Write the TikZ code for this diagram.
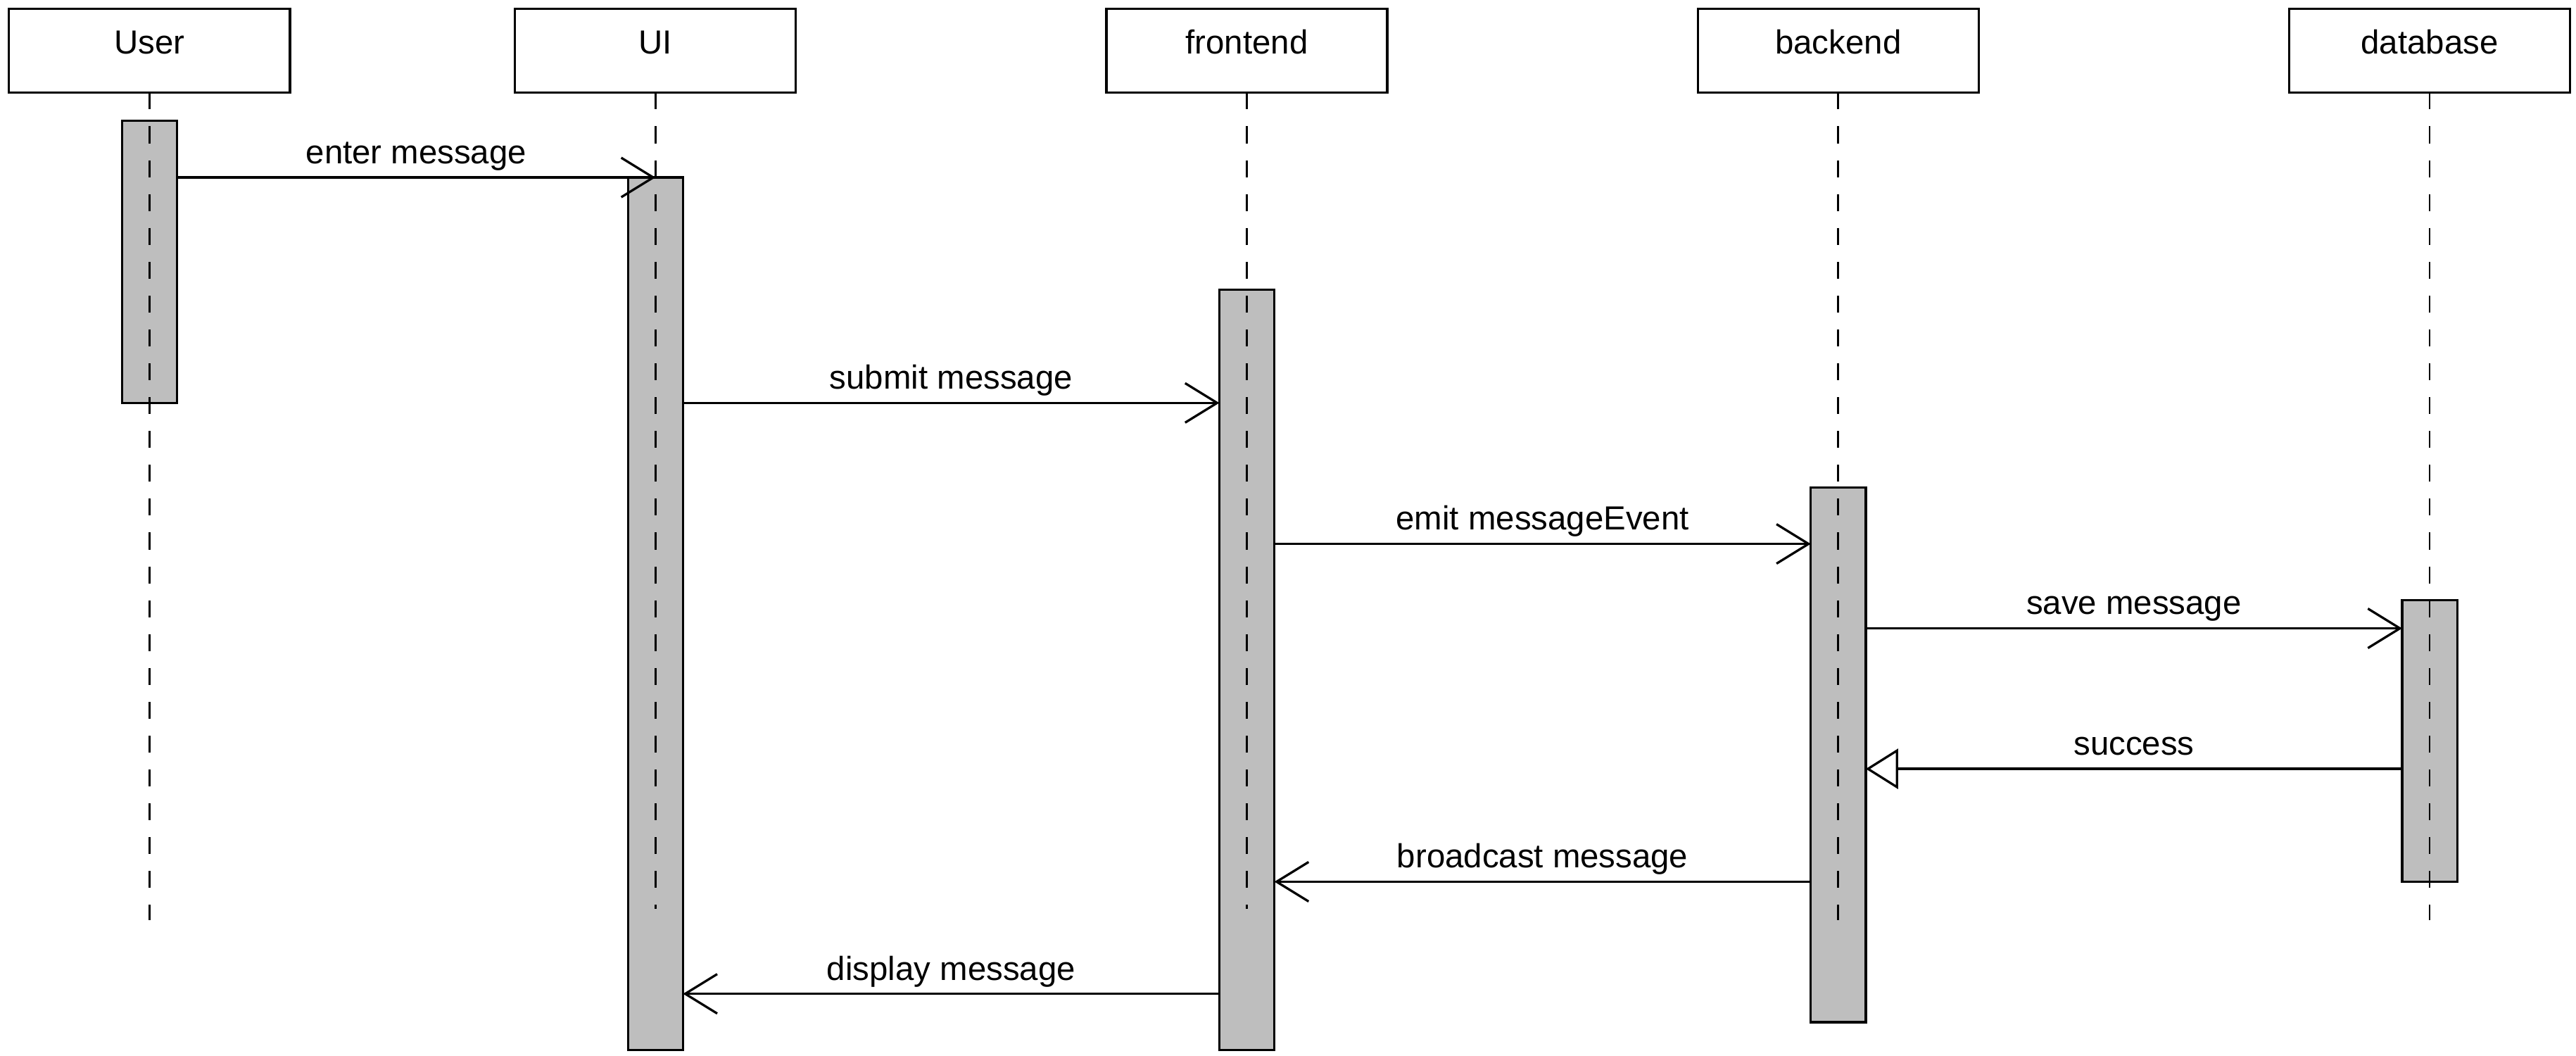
\documentclass[tikz,border=0pt]{standalone}
\usepackage{fontspec}
\setmainfont{Liberation Sans}
\usepackage{xcolor}
\definecolor{actgray}{RGB}{190,190,190}
\usetikzlibrary{arrows.meta,positioning}

\begin{document}
\begin{tikzpicture}[x=1pt,y=-1pt,
    headbox/.style={draw, line width=1.4pt, minimum width=171pt, minimum height=51pt, inner sep=0pt, outer sep=0pt, text height=15pt, text depth=11.4pt, font=\fontsize{20.3}{24}\selectfont},
    actbar/.style={draw, fill=actgray, line width=1.4pt, minimum width=33.5pt, inner sep=0pt, outer sep=0pt},
    lifeline/.style={line width=1.15pt, dash pattern=on 10.3pt off 10.3pt},
    msg/.style={line width=1.4pt, -{Straight Barb[length=19.5pt,width=24pt]}},
    reply/.style={line width=1.4pt, -{Triangle[open,length=19.7pt,width=24.4pt]}},
    lbl/.style={anchor=base, yshift=8.4pt, inner sep=0pt, font=\fontsize{20.3}{24}\selectfont}]
    \fill[white] (0,0) rectangle (1568.1,642.6);
    \useasboundingbox (0,0) rectangle (1568.1,642.6);

    % Participants
    \foreach \n/\x/\t in {user/91/User, ui/399/UI, frontend/759/frontend, backend/1119/backend, database/1479/database} {
        \node[headbox] (\n) at (\x,30.8) {\t};
    }

    % Activation bars
    \node[actbar, minimum height=171.7pt] (userbar) at (91,159.45) {};
    \node[actbar, minimum height=531.1pt] (uibar) at (399,373.55) {};
    \node[actbar, minimum height=462.9pt] (frontbar) at (759,407.65) {};
    \node[actbar, minimum height=325.3pt] (backbar) at (1119,459.45) {};
    \node[actbar, minimum height=171.4pt] (databar) at (1479,450.9) {};

    % Lifelines
    \foreach \n/\len in {user/503.6, ui/496.7, frontend/496.7, backend/503.6, database/503.6} {
        \path (\n.south) ++(0,\len) coordinate (\n-end);
        \draw[lifeline] (\n.south) -- (\n-end);
    }

    % Message rows
    \foreach \r/\yy in {1/108, 2/245.2, 3/331, 4/382.4, 5/467.9, 6/536.6, 7/604.8} {
        \coordinate (row\r) at (0,\yy);
    }

    % Messages
    \draw[msg] (userbar.east |- row1) -- node[lbl] {enter message} (ui.south |- row1);
    \draw[msg] (uibar.east |- row2) -- node[lbl] {submit message} (frontbar.west |- row2);
    \draw[msg] (frontbar.east |- row3) -- node[lbl] {emit messageEvent} (backbar.west |- row3);
    \draw[msg] (backbar.east |- row4) -- node[lbl] {save message} (databar.west |- row4);
    \draw[reply] (databar.west |- row5) -- node[lbl] {success} (backbar.east |- row5);
    \draw[msg] (backbar.west |- row6) -- node[lbl] {broadcast message} (frontbar.east |- row6);
    \draw[msg] (frontbar.west |- row7) -- node[lbl] {display message} (uibar.east |- row7);
\end{tikzpicture}
\end{document}
